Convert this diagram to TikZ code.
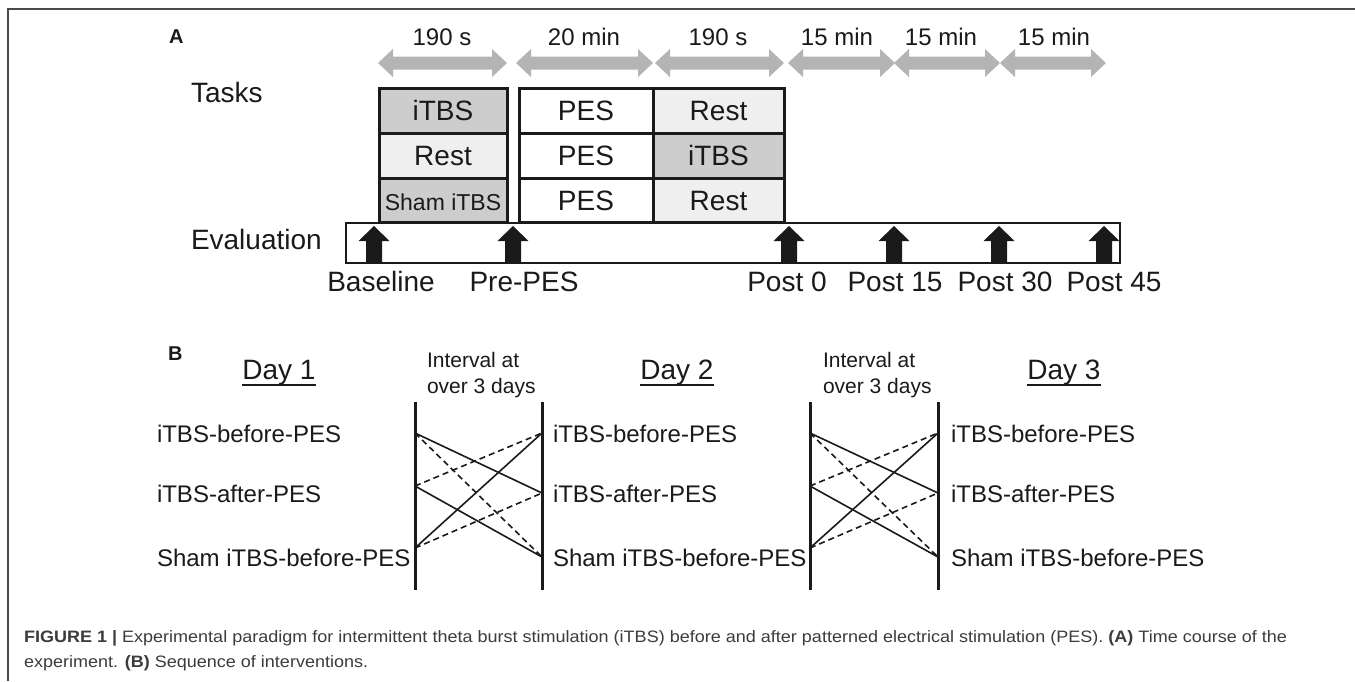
\documentclass[tikz,border=0pt]{standalone}
\usepackage{fontspec}
\setmainfont{Liberation Sans}
\usetikzlibrary{calc}

\definecolor{durgray}{HTML}{B4B4B4}
\definecolor{celldark}{HTML}{CDCDCD}
\definecolor{celllight}{HTML}{EFEFEF}
\definecolor{inkblack}{HTML}{1A1A1A}
\definecolor{framegray}{HTML}{4A4A4A}
\definecolor{captext}{HTML}{3C3C3C}

\newcommand\setpx[1]{\fontsize{#1pt}{#1pt}\selectfont}
\newsavebox\capboxone
\newdimen\capwidth

% grey double-headed duration arrow: x0, x1, y
\newcommand\durarrow[3]{%
  \fill[durgray] (#1,#3) -- (#1+15,#3-14) -- (#1+15,#3-6.5) -- (#2-15,#3-6.5)
    -- (#2-15,#3-14) -- (#2,#3) -- (#2-15,#3+14) -- (#2-15,#3+6.5)
    -- (#1+15,#3+6.5) -- (#1+15,#3+14) -- cycle;}
% black block arrow marking an evaluation time point
\newcommand\evalarrow[1]{%
  \fill[inkblack] (#1,226) -- (#1+15.5,241) -- (#1+8,241) -- (#1+8,262)
    -- (#1-8,262) -- (#1-8,241) -- (#1-15.5,241) -- cycle;}

\tikzset{
  lab/.style={inner sep=0pt, outer sep=0pt, text=inkblack, font=\setpx{28}},
  durlab/.style={lab, font=\setpx{24}, anchor=base},
  panel/.style={lab, font=\bfseries\setpx{20}, anchor=base west},
  cell/.style={draw=inkblack, line width=3pt, inner sep=0pt, outer sep=0pt,
    minimum height=45pt, text height=20pt, text depth=0pt,
    font=\setpx{28}, text=inkblack},
  rowlab/.style={lab, font=\setpx{24}, anchor=base west},
  intlab/.style={lab, font=\setpx{21}, anchor=base west},
  bar/.style={draw=inkblack, line width=3pt},
  link/.style={draw=inkblack, line width=1.6pt},
  dlink/.style={link, dash pattern=on 6pt off 4pt},
}

\begin{document}
% first caption line, measured so both caption lines share one horizontal scale
\sbox\capboxone{\setpx{16.5}\color{captext}\textbf{FIGURE 1 |} Experimental paradigm for intermittent theta burst stimulation (iTBS) before and after patterned electrical stimulation (PES). \textbf{(A)} Time course of the}%
\capwidth=\wd\capboxone
\begin{tikzpicture}[x=1pt, y=-1pt]
\useasboundingbox (0,0) rectangle (1355,681);
\fill[white] (0,0) rectangle (1355,681);

% outer frame (top and left edges)
\draw[framegray, line width=1.6pt] (8,681) -- (8,9) -- (1355,9);

% ---------------- panel A ----------------
\node[panel] (pa) at (169,43) {A};

\node[durlab] (d1) at (442,45) {190 s};
\node[durlab] (d2) at (584,45) {20 min};
\node[durlab] (d3) at (718,45) {190 s};
\node[durlab] (d4) at (837,45) {15 min};
\node[durlab] (d5) at (941,45) {15 min};
\node[durlab] (d6) at (1054,45) {15 min};

\durarrow{378}{507}{63}
\durarrow{516}{653}{63}
\durarrow{655}{784}{63}
\durarrow{788}{895}{63}
\durarrow{894}{1000}{63}
\durarrow{1000}{1106}{63}

\node[lab, anchor=base west] (tasks) at (191,102) {Tasks};
\node[lab, anchor=base west] (evallab) at (191,249) {Evaluation};

\node[draw=inkblack, line width=2.5pt, inner sep=0pt, outer sep=0pt,
      minimum width=774pt, minimum height=40pt] (evalbox) at (733,243) {};

% task cells
\node[cell, fill=celldark,  minimum width=128pt] (a1) at (443,110.5) {iTBS};
\node[cell, fill=celllight, minimum width=128pt] (a2) at (443,155.5) {Rest};
\node[cell, fill=celldark,  minimum width=128pt, minimum height=44pt,
      font=\setpx{23}] (a3) at (443,200) {Sham iTBS};
\node[cell, fill=white, minimum width=134pt] (b1) at (586,110.5) {PES};
\node[cell, fill=white, minimum width=134pt] (b2) at (586,155.5) {PES};
\node[cell, fill=white, minimum width=134pt, minimum height=44pt] (b3) at (586,200) {PES};
\node[cell, fill=celllight, minimum width=131pt] (c1) at (718.5,110.5) {Rest};
\node[cell, fill=celldark,  minimum width=131pt] (c2) at (718.5,155.5) {iTBS};
\node[cell, fill=celllight, minimum width=131pt, minimum height=44pt] (c3) at (718.5,200) {Rest};

\evalarrow{374}
\evalarrow{513}
\evalarrow{789}
\evalarrow{894}
\evalarrow{999}
\evalarrow{1104}

\node[lab, anchor=base] (t0) at (381,291) {Baseline};
\node[lab, anchor=base] (t1) at (524,291) {Pre-PES};
\node[lab, anchor=base] (t2) at (787,291) {Post 0};
\node[lab, anchor=base] (t3) at (895,291) {Post 15};
\node[lab, anchor=base] (t4) at (1005,291) {Post 30};
\node[lab, anchor=base] (t5) at (1114,291) {Post 45};

% ---------------- panel B ----------------
\node[panel] (pb) at (168,360) {B};

\node[lab, anchor=base] (day1) at (279,379) {Day 1};
\node[lab, anchor=base] (day2) at (677,379) {Day 2};
\node[lab, anchor=base] (day3) at (1064,379) {Day 3};
\foreach \d in {day1,day2,day3}
  \draw[inkblack, line width=1.8pt] (\d.south west) -- (\d.south east);

\node[intlab] (ia1) at (427,367) {Interval at};
\node[intlab] (ib1) at (427,393) {over 3 days};
\node[intlab] (ia2) at (823,367) {Interval at};
\node[intlab] (ib2) at (823,393) {over 3 days};

\foreach \c/\x in {1/157, 2/553, 3/951}{
  \node[rowlab] (r\c a) at (\x,442) {iTBS-before-PES};
  \node[rowlab] (r\c b) at (\x,502) {iTBS-after-PES};
  \node[rowlab] (r\c c) at (\x,566) {Sham iTBS-before-PES};
}

% crossover lines between consecutive days
\foreach \k/\xl/\xr in {1/415/542, 2/810/938}{
  \coordinate (lt\k) at (\xl,402);  \coordinate (lb\k) at (\xl,590);
  \coordinate (rt\k) at (\xr,402);  \coordinate (rb\k) at (\xr,590);
  \coordinate (la\k) at (\xl,433);  \coordinate (lm\k) at (\xl,486);
  \coordinate (lc\k) at (\xl,548);
  \coordinate (ra\k) at (\xr,433);  \coordinate (rm\k) at (\xr,493);
  \coordinate (rc\k) at (\xr,557);
  \draw[bar] (lt\k) -- (lb\k);
  \draw[bar] (rt\k) -- (rb\k);
  \draw[link]  (la\k) -- (rm\k);
  \draw[link]  (lm\k) -- (rc\k);
  \draw[link]  (lc\k) -- (ra\k);
  \draw[dlink] (la\k) -- (rc\k);
  \draw[dlink] (lm\k) -- (ra\k);
  \draw[dlink] (lc\k) -- (rm\k);
}

% ---------------- caption ----------------
\pgfmathsetmacro\capscale{1263/\capwidth}
\node[inner sep=0pt, outer sep=0pt, anchor=base west] (cap1) at (24,642)
  {\scalebox{\capscale}[1]{\usebox\capboxone}};
\node[inner sep=0pt, outer sep=0pt, anchor=base west] (cap2) at (24,667)
  {\scalebox{\capscale}[1]{\setpx{16.5}\color{captext}experiment. \textbf{(B)} Sequence of interventions.}};
\end{tikzpicture}
\end{document}
